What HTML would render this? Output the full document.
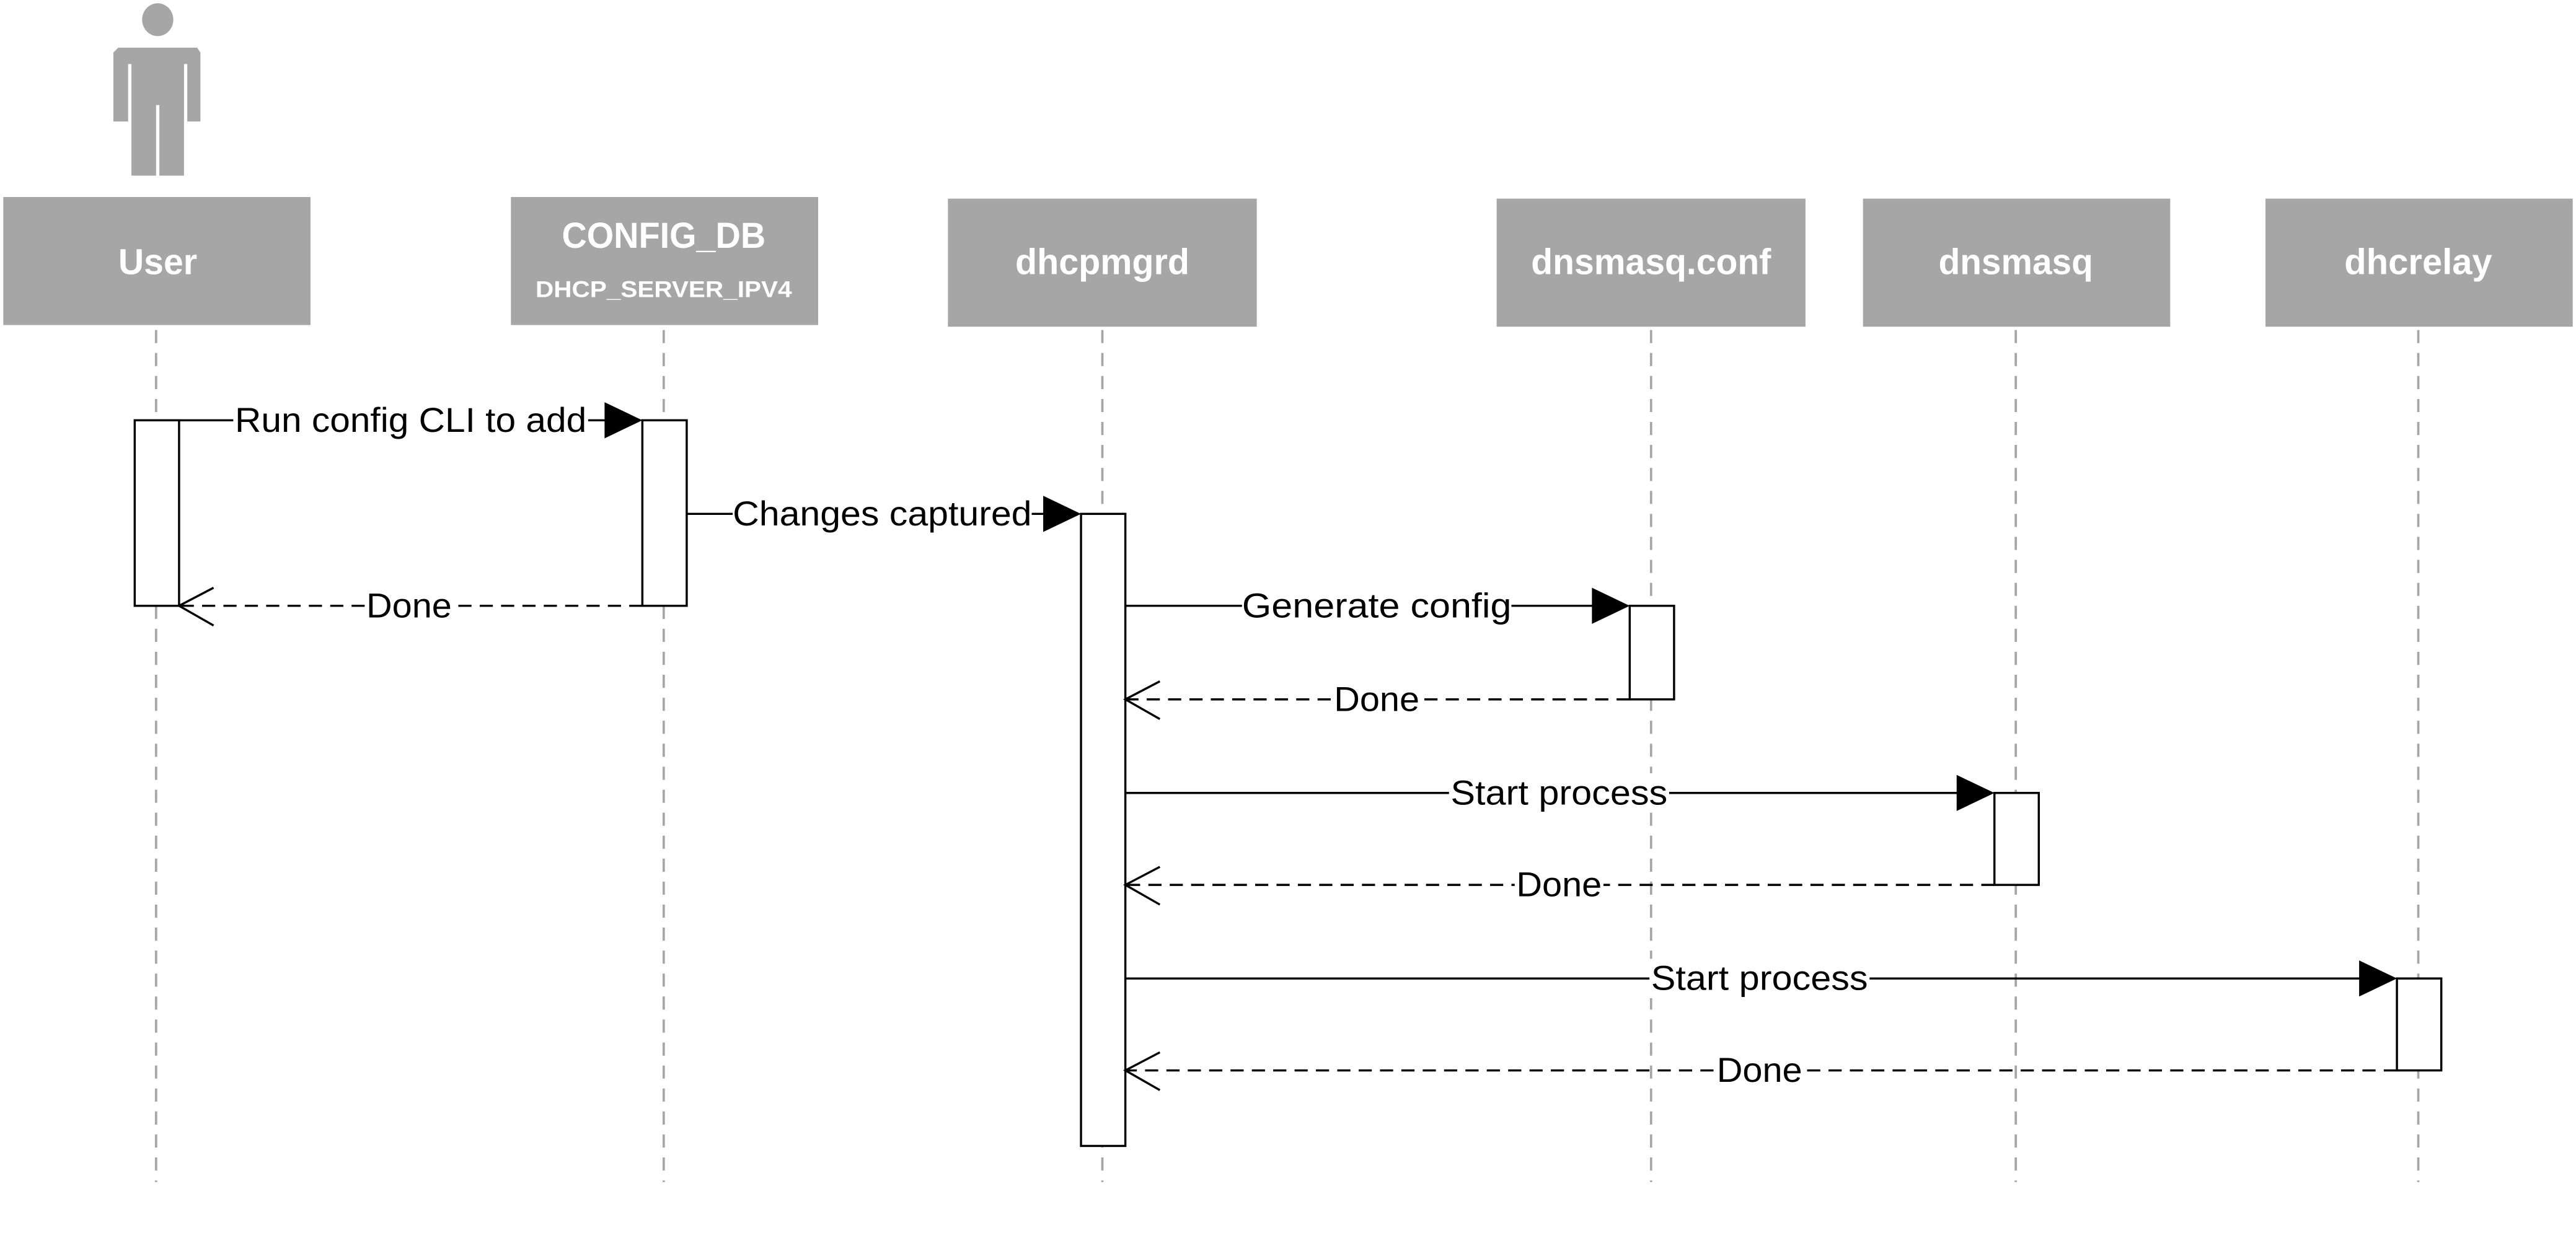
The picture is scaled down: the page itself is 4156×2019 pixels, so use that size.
<!DOCTYPE html>
<html><head><meta charset="utf-8"><style>
html,body{margin:0;padding:0;background:#fff;}
svg{display:block;}
</style></head><body>
<svg width="4156" height="2019" viewBox="0 0 1568 762" preserveAspectRatio="none" xmlns="http://www.w3.org/2000/svg" font-family="'Liberation Sans', sans-serif">
<rect width="1568" height="762" fill="#fff"/>
<g fill="#a6a6a6">
<ellipse cx="96" cy="12" rx="9.5" ry="10"/>
<path d="M72 29 H120 L122 32 V74 H114 V39 H112 V107 H97 V64 H95 V107 H80 V39 H78 V74 H69 V32 Z"/>
</g>
<g fill="#a6a6a6">
<rect x="2" y="120" width="187" height="78"/>
<rect x="311" y="120" width="187" height="78"/>
<rect x="577" y="121" width="188" height="78"/>
<rect x="911" y="121" width="188" height="78"/>
<rect x="1134" y="121" width="187" height="78"/>
<rect x="1379" y="121" width="187" height="78"/>
</g>
<g fill="#fff" font-weight="bold" font-size="22" text-anchor="middle">
<text x="96" y="167" textLength="48" lengthAdjust="spacingAndGlyphs">User</text>
<text x="404" y="151" textLength="124" lengthAdjust="spacingAndGlyphs">CONFIG_DB</text>
<text x="404" y="181" font-size="14" textLength="156" lengthAdjust="spacingAndGlyphs">DHCP_SERVER_IPV4</text>
<text x="671" y="167" textLength="106" lengthAdjust="spacingAndGlyphs">dhcpmgrd</text>
<text x="1005" y="167" textLength="146" lengthAdjust="spacingAndGlyphs">dnsmasq.conf</text>
<text x="1227" y="167" textLength="94" lengthAdjust="spacingAndGlyphs">dnsmasq</text>
<text x="1472" y="167" textLength="90" lengthAdjust="spacingAndGlyphs">dhcrelay</text>
</g>
<g stroke="#a6a6a6" stroke-width="1.4" stroke-dasharray="8 6">
<line x1="95" y1="201" x2="95" y2="720"/>
<line x1="404" y1="201" x2="404" y2="720"/>
<line x1="671" y1="201" x2="671" y2="720"/>
<line x1="1005" y1="201" x2="1005" y2="720"/>
<line x1="1227" y1="201" x2="1227" y2="720"/>
<line x1="1472" y1="201" x2="1472" y2="720"/>
</g>
<g fill="#fff" stroke="#000" stroke-width="1.3">
<rect x="82" y="256" width="27" height="113"/>
<rect x="391" y="256" width="27" height="113"/>
<rect x="658" y="313" width="27" height="385"/>
<rect x="992" y="369" width="27" height="57"/>
<rect x="1214" y="483" width="27" height="56"/>
<rect x="1459" y="596" width="27" height="56"/>
</g>
<g stroke="#000" stroke-width="1.3">
<line x1="109" y1="256" x2="370" y2="256"/>
<line x1="418" y1="313" x2="636" y2="313"/>
<line x1="685" y1="369" x2="970" y2="369"/>
<line x1="685" y1="483" x2="1192" y2="483"/>
<line x1="685" y1="596" x2="1437" y2="596"/>
</g>
<g fill="#000">
<path d="M368 245 L391 256 L368 267 Z"/>
<path d="M635 302 L658 313 L635 324 Z"/>
<path d="M969 358 L992 369 L969 380 Z"/>
<path d="M1191 472 L1214 483 L1191 494 Z"/>
<path d="M1436 585 L1459 596 L1436 607 Z"/>
</g>
<g stroke="#000" stroke-width="1.3" fill="none">
<line x1="391" y1="369" x2="109" y2="369" stroke-dasharray="8 5"/>
<path d="M130 358 L109 369 L130 381"/>
<line x1="992" y1="426" x2="685" y2="426" stroke-dasharray="8 5"/>
<path d="M706 415 L685 426 L706 438"/>
<line x1="1214" y1="539" x2="685" y2="539" stroke-dasharray="8 5"/>
<path d="M706 528 L685 539 L706 551"/>
<line x1="1459" y1="652" x2="685" y2="652" stroke-dasharray="8 5"/>
<path d="M706 641 L685 652 L706 664"/>
</g>
<g font-size="21" text-anchor="middle" fill="#000">
<rect x="142" y="244" width="216" height="24" fill="#fff"/>
<text x="250" y="263" textLength="214" lengthAdjust="spacingAndGlyphs">Run config CLI to add</text>
<rect x="446" y="301" width="182" height="24" fill="#fff"/>
<text x="537" y="320" textLength="182" lengthAdjust="spacingAndGlyphs">Changes captured</text>
<rect x="222" y="357" width="54" height="24" fill="#fff"/>
<text x="249" y="376" textLength="52" lengthAdjust="spacingAndGlyphs">Done</text>
<rect x="756" y="357" width="164" height="24" fill="#fff"/>
<text x="838" y="376" textLength="164" lengthAdjust="spacingAndGlyphs">Generate config</text>
<rect x="811" y="414" width="54" height="24" fill="#fff"/>
<text x="838" y="433" textLength="52" lengthAdjust="spacingAndGlyphs">Done</text>
<rect x="882" y="471" width="134" height="24" fill="#fff"/>
<text x="949" y="490" textLength="132" lengthAdjust="spacingAndGlyphs">Start process</text>
<rect x="922" y="527" width="54" height="24" fill="#fff"/>
<text x="949" y="546" textLength="52" lengthAdjust="spacingAndGlyphs">Done</text>
<rect x="1004" y="584" width="134" height="24" fill="#fff"/>
<text x="1071" y="603" textLength="132" lengthAdjust="spacingAndGlyphs">Start process</text>
<rect x="1044" y="640" width="54" height="24" fill="#fff"/>
<text x="1071" y="659" textLength="52" lengthAdjust="spacingAndGlyphs">Done</text>
</g>
</svg>
</body></html>
